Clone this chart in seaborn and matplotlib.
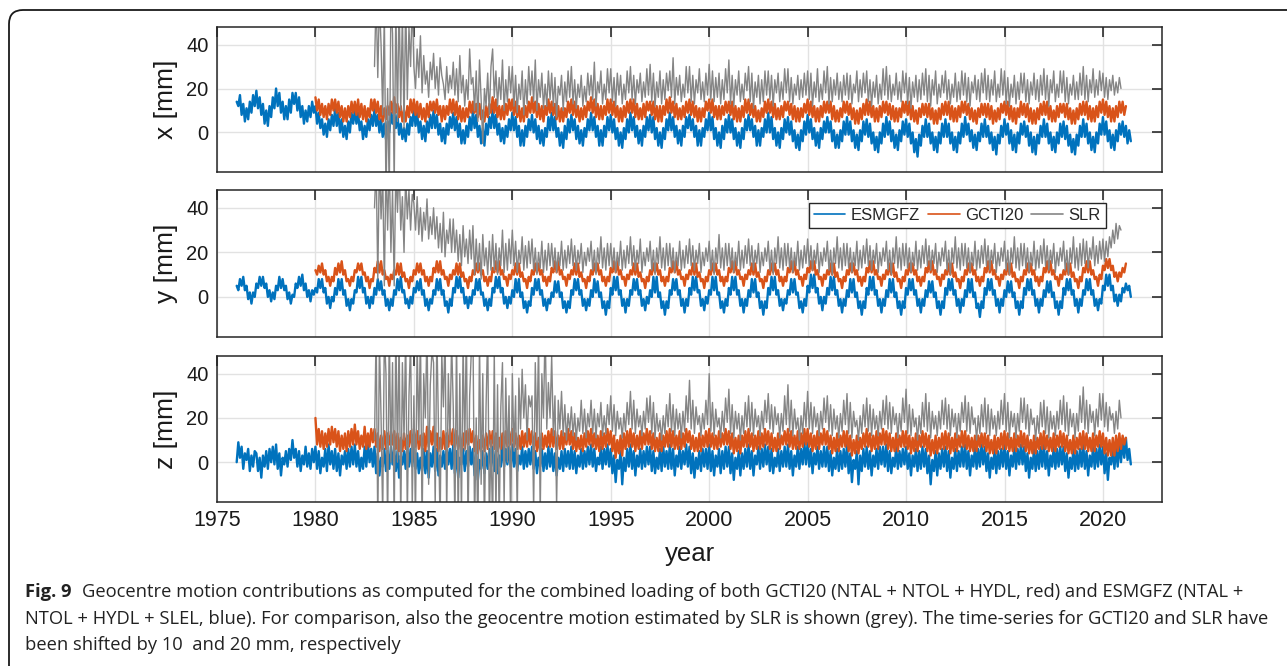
import numpy as np
import pandas as pd
import matplotlib
matplotlib.use("Agg")
import matplotlib.pyplot as plt
import matplotlib.transforms as mtransforms
from matplotlib.patches import FancyBboxPatch
from matplotlib.lines import Line2D
import seaborn as sns

sns.set_theme(style="white")
plt.rcParams["font.family"] = ["Liberation Sans", "DejaVu Sans"]

# ---------------- data (mm), 12 samples per year, one row per year ----------------
SERIES = ["ESMGFZ", "GCTI20", "SLR"]
START_YEAR = {"ESMGFZ": 1976.0, "GCTI20": 1980.0, "SLR": 1983.0}
SAMPLES_PER_YEAR = 12
PANELS = ["x", "y", "z"]
XTICKS = [1975, 1980, 1985, 1990, 1995, 2000, 2005, 2010, 2015, 2020]
YTICKS = [0, 20, 40]

x_esmgfz = [
    14, 12, 17, 8, 13, 5, 11, 6, 14, 9, 17, 12,
    19, 11, 16, 8, 13, 4, 10, 3, 12, 7, 16, 11,
    20, 12, 18, 9, 14, 6, 12, 6, 15, 9, 18, 13,
    18, 10, 16, 7, 12, 4, 10, 5, 12, 7, 14, 9,
    12, 4, 9, 2, 6, -1, 4, -2, 6, 1, 8, 3,
    11, 3, 9, 0, 6, -2, 3, -3, 5, 0, 9, 4,
    10, 4, 9, 1, 5, -3, 3, -2, 6, 1, 8, 3,
    11, 3, 8, 0, 6, -2, 4, -3, 5, 0, 9, 4,
    10, 2, 8, -1, 4, -3, 2, -4, 4, -1, 7, 3,
    11, 3, 9, 0, 5, -3, 3, -4, 5, 0, 8, 2,
    10, 2, 8, -1, 4, -4, 2, -5, 4, -1, 7, 2,
    9, 1, 7, -2, 4, -5, 1, -5, 3, -2, 7, 1,
    10, 2, 8, -2, 3, -5, 2, -6, 4, -1, 7, 2,
    11, 2, 8, -1, 4, -4, 2, -5, 3, -2, 6, 1,
    9, 1, 7, -2, 3, -6, 1, -6, 3, -2, 6, 1,
    8, 0, 6, -3, 3, -5, 1, -6, 2, -2, 7, 1,
    9, 1, 7, -2, 2, -6, 0, -7, 3, -3, 6, 0,
    8, 1, 6, -3, 3, -5, 1, -6, 2, -2, 6, 1,
    9, 1, 7, -2, 3, -6, 1, -6, 3, -2, 7, 1,
    8, 0, 6, -3, 2, -6, 0, -7, 2, -3, 6, 0,
    9, 1, 7, -2, 3, -5, 1, -6, 3, -2, 7, 1,
    8, 0, 7, -3, 2, -6, 0, -7, 2, -3, 6, 1,
    9, 1, 7, -2, 3, -5, 1, -6, 3, -2, 7, 2,
    8, 1, 6, -2, 3, -6, 1, -6, 2, -2, 6, 1,
    9, 1, 7, -3, 2, -6, 0, -7, 3, -3, 6, 0,
    8, 0, 6, -3, 2, -6, 0, -7, 2, -3, 6, 1,
    8, 1, 6, -2, 3, -6, 1, -6, 2, -2, 6, 0,
    9, 0, 7, -3, 2, -6, 0, -7, 2, -3, 6, 0,
    7, -1, 5, -4, 1, -7, -1, -8, 1, -4, 5, -1,
    8, 0, 6, -3, 2, -6, 0, -7, 2, -3, 5, 0,
    7, 0, 5, -4, 1, -7, -1, -7, 1, -4, 5, -1,
    7, -1, 5, -4, 1, -7, -1, -8, 1, -4, 5, -1,
    6, -2, 4, -5, 0, -8, -2, -9, 0, -5, 4, -2,
    7, -1, 5, -4, 1, -7, -1, -8, 1, -4, 5, -1,
    6, -2, 4, -5, 0, -9, -3, -11, -1, -6, 3, -2,
    6, -2, 4, -5, 0, -8, -2, -9, 0, -5, 4, -2,
    6, -2, 4, -5, 0, -8, -2, -9, 0, -5, 4, -2,
    7, -1, 4, -4, 1, -7, -1, -8, 0, -4, 4, -2,
    6, -2, 3, -5, 0, -8, -2, -10, -1, -5, 3, -2,
    6, -1, 4, -5, 1, -8, -1, -9, 0, -5, 4, -1,
    5, -2, 3, -6, 0, -9, -2, -10, -1, -5, 3, -2,
    6, -2, 4, -5, 0, -8, -2, -9, 0, -5, 4, -2,
    5, -3, 3, -6, -1, -9, -3, -10, -1, -6, 3, -2,
    6, -2, 4, -5, 0, -8, -2, -9, 0, -5, 4, -1,
    7, -1, 5, -4, 1, -7, -1, -8, 1, -4, 4, -1,
    5, -2, 3, -5, 1, -4,
]
x_gcti20 = [
    16, 10, 15, 8, 13, 7, 12, 6, 13, 8, 15, 10,
    15, 9, 14, 7, 12, 5, 11, 5, 12, 7, 14, 9,
    14, 8, 15, 7, 13, 6, 12, 5, 11, 7, 15, 10,
    15, 9, 14, 6, 12, 5, 11, 6, 12, 8, 14, 9,
    16, 9, 13, 7, 12, 5, 10, 5, 12, 7, 15, 9,
    15, 8, 14, 7, 13, 6, 11, 5, 13, 7, 14, 10,
    14, 9, 15, 8, 12, 5, 12, 6, 12, 8, 15, 9,
    15, 8, 14, 6, 12, 5, 11, 5, 11, 7, 14, 9,
    14, 9, 13, 7, 13, 6, 10, 5, 12, 7, 13, 9,
    16, 9, 15, 7, 12, 6, 12, 6, 13, 8, 15, 10,
    15, 8, 14, 7, 12, 5, 11, 5, 12, 7, 14, 9,
    16, 9, 14, 7, 13, 6, 12, 5, 12, 8, 15, 9,
    14, 8, 13, 6, 12, 5, 11, 5, 11, 7, 14, 9,
    15, 8, 14, 7, 12, 5, 11, 6, 12, 7, 14, 10,
    16, 9, 15, 7, 13, 6, 12, 6, 12, 8, 15, 9,
    15, 8, 14, 7, 12, 5, 11, 5, 12, 7, 14, 9,
    15, 9, 15, 7, 13, 6, 11, 6, 13, 7, 14, 10,
    14, 8, 14, 6, 12, 5, 12, 5, 12, 8, 15, 9,
    16, 9, 14, 7, 13, 6, 11, 6, 12, 7, 14, 9,
    15, 8, 14, 7, 12, 5, 11, 5, 11, 7, 14, 10,
    15, 9, 15, 7, 12, 6, 12, 6, 12, 8, 14, 9,
    14, 8, 14, 6, 12, 5, 11, 5, 12, 7, 15, 9,
    15, 8, 13, 7, 12, 5, 10, 5, 11, 7, 14, 9,
    15, 9, 14, 7, 13, 6, 11, 6, 12, 7, 14, 10,
    14, 8, 13, 6, 12, 5, 11, 5, 11, 7, 13, 9,
    15, 8, 14, 7, 12, 5, 11, 5, 12, 7, 14, 9,
    14, 9, 14, 6, 12, 5, 10, 5, 11, 7, 14, 9,
    14, 8, 13, 6, 11, 4, 10, 4, 11, 6, 13, 8,
    15, 8, 14, 7, 12, 5, 11, 5, 12, 7, 14, 9,
    14, 8, 13, 6, 12, 5, 11, 5, 11, 7, 14, 9,
    14, 8, 14, 6, 12, 5, 10, 4, 11, 7, 13, 8,
    13, 7, 13, 6, 11, 4, 10, 4, 11, 6, 13, 8,
    14, 8, 14, 6, 12, 5, 11, 5, 12, 7, 14, 9,
    14, 8, 13, 6, 11, 5, 10, 4, 11, 7, 13, 8,
    13, 7, 13, 6, 12, 4, 10, 5, 11, 6, 13, 9,
    14, 8, 14, 6, 12, 5, 11, 4, 11, 7, 14, 8,
    13, 7, 13, 5, 11, 4, 10, 4, 11, 6, 13, 8,
    14, 8, 14, 6, 12, 5, 10, 5, 12, 7, 13, 9,
    13, 7, 13, 6, 11, 4, 10, 4, 11, 6, 13, 8,
    14, 8, 14, 6, 12, 5, 11, 5, 12, 7, 14, 9,
    15, 8, 14, 7, 12, 5, 11, 5, 12, 7, 14, 9,
    14, 8, 12,
]
x_slr = [
    30, 62, 25, 60, 40, 8, 55, -30, 20, -28, 60, 45,
    -25, 58, 5, 62, 10, 55, 2, 60, 15, 48, 30, 60,
    30, 20, 38, 25, 44, 18, 35, 22, 28, 16, 32, 24,
    36, 20, 30, 17, 34, 26, 22, 15, 30, 18, 26, 20,
    32, 17, 29, 14, 35, 18, 26, 12, 24, 15, 38, 22,
    25, 10, 28, 5, 33, 15, -5, 20, 12, 27, 8, 30,
    38, 16, 28, 12, 25, 15, 33, 10, 24, 14, 30, 18,
    30, 12, 26, 9, 22, 15, 28, 8, 24, 13, 30, 17,
    28, 14, 33, 10, 24, 16, 27, 11, 22, 12, 28, 15,
    27, 12, 25, 7, 21, 17, 26, 10, 23, 14, 28, 16,
    30, 13, 24, 11, 22, 16, 26, 12, 21, 14, 27, 17,
    26, 15, 32, 12, 23, 18, 28, 13, 22, 15, 29, 18,
    29, 14, 25, 12, 27, 17, 26, 13, 22, 15, 28, 18,
    30, 15, 26, 13, 24, 18, 27, 14, 23, 16, 29, 17,
    31, 14, 27, 12, 23, 16, 28, 13, 24, 15, 27, 19,
    28, 16, 34, 13, 25, 17, 26, 14, 22, 16, 30, 18,
    30, 14, 26, 13, 24, 18, 29, 15, 23, 14, 27, 17,
    31, 15, 28, 14, 25, 16, 27, 13, 24, 15, 29, 18,
    33, 13, 26, 12, 24, 17, 28, 14, 22, 15, 27, 19,
    30, 14, 27, 11, 23, 16, 26, 13, 24, 14, 28, 17,
    28, 15, 26, 12, 24, 18, 27, 14, 23, 15, 29, 18,
    29, 14, 25, 13, 22, 17, 26, 15, 24, 16, 27, 17,
    28, 15, 27, 12, 23, 16, 29, 14, 22, 15, 28, 18,
    30, 13, 25, 14, 24, 17, 27, 15, 23, 14, 26, 17,
    27, 15, 26, 13, 22, 18, 28, 14, 24, 16, 27, 18,
    28, 14, 24, 12, 23, 16, 26, 13, 22, 15, 29, 17,
    30, 15, 26, 14, 22, 17, 27, 15, 23, 14, 28, 18,
    27, 13, 25, 11, 23, 16, 26, 14, 24, 15, 27, 17,
    29, 14, 26, 12, 24, 17, 28, 13, 22, 16, 26, 18,
    28, 15, 24, 13, 22, 16, 27, 14, 23, 15, 28, 17,
    27, 14, 25, 12, 23, 18, 26, 15, 24, 14, 27, 18,
    29, 15, 26, 14, 24, 17, 28, 14, 22, 16, 29, 17,
    28, 13, 25, 12, 22, 16, 26, 13, 23, 15, 27, 18,
    27, 14, 24, 13, 23, 17, 27, 15, 24, 14, 26, 17,
    29, 15, 26, 12, 24, 18, 28, 14, 22, 16, 28, 18,
    28, 14, 25, 13, 22, 17, 26, 15, 23, 15, 27, 17,
    30, 15, 26, 14, 24, 18, 29, 16, 24, 17, 28, 19,
    27, 16, 25, 15, 24, 19, 26, 17, 23, 18, 25, 20,
]

y_esmgfz = [
    5, 3, 8, 5, 9, 3, 5, -1, 2, -3, 2, 0,
    6, 4, 9, 5, 9, 4, 6, 0, 3, -2, 2, -1,
    5, 3, 9, 4, 8, 3, 5, -1, 2, -3, 1, 0,
    6, 4, 9, 5, 10, 3, 6, 0, 3, -2, 3, 1,
    4, 2, 8, 4, 8, 2, 4, -3, 0, -5, 0, -2,
    4, 1, 8, 3, 8, 1, 3, -4, -1, -6, -1, -3,
    3, 2, 9, 4, 9, 2, 4, -3, 0, -5, 0, -3,
    4, 1, 8, 3, 7, 1, 3, -4, -1, -6, -1, -4,
    3, 1, 8, 3, 9, 2, 3, -3, -1, -5, 0, -3,
    4, 2, 7, 3, 8, 1, 3, -4, -1, -6, -1, -3,
    3, 1, 8, 3, 8, 1, 3, -4, -2, -7, -1, -4,
    4, 2, 9, 4, 9, 2, 4, -3, 0, -5, 0, -3,
    3, 1, 8, 3, 8, 1, 2, -4, -1, -6, -1, -4,
    4, 2, 9, 4, 9, 2, 4, -3, 0, -5, 0, -3,
    3, 0, 8, 2, 8, 0, 2, -5, -2, -7, -2, -4,
    4, 1, 8, 3, 8, 1, 3, -4, -1, -6, -1, -3,
    2, 0, 7, 2, 7, 0, 2, -5, -2, -7, -2, -5,
    3, 1, 8, 3, 8, 1, 3, -4, -1, -6, -1, -4,
    3, 0, 8, 2, 7, 0, 2, -5, -2, -8, -2, -5,
    4, 1, 9, 3, 9, 1, 3, -4, -1, -7, -1, -4,
    3, 1, 8, 3, 8, 1, 3, -4, -1, -6, 0, -3,
    3, 0, 9, 2, 9, 0, 2, -5, -2, -8, -2, -5,
    3, 1, 8, 3, 8, 1, 3, -4, -1, -7, -1, -4,
    4, 1, 9, 3, 9, 2, 3, -4, -1, -6, 0, -3,
    3, 1, 9, 3, 9, 1, 2, -5, -2, -7, -1, -4,
    4, 1, 9, 3, 9, 1, 3, -4, -1, -7, -1, -4,
    3, 0, 8, 2, 8, 0, 2, -5, -2, -8, -2, -5,
    4, 1, 9, 3, 9, 1, 3, -4, -1, -6, -1, -3,
    3, 1, 8, 2, 8, 1, 2, -5, -2, -7, -1, -4,
    5, 2, 10, 4, 10, 2, 4, -3, 0, -6, 0, -3,
    4, 1, 9, 3, 9, 1, 3, -4, -1, -7, -1, -4,
    3, 0, 8, 2, 8, 0, 2, -5, -2, -8, -2, -5,
    4, 1, 9, 3, 9, 1, 3, -4, -1, -7, -1, -4,
    3, 0, 8, 2, 8, 0, 2, -5, -2, -8, -2, -5,
    4, 1, 8, 3, 8, 1, 3, -4, -1, -7, -1, -4,
    3, 0, 7, 2, 7, 0, 2, -5, -2, -8, -2, -5,
    4, 1, 8, 3, 8, 1, 3, -4, -1, -7, -1, -4,
    3, 0, 8, 2, 8, 0, 2, -5, -3, -9, -2, -5,
    4, 1, 8, 3, 8, 1, 3, -4, -1, -7, -1, -4,
    3, 0, 7, 2, 7, 0, 2, -5, -2, -8, -2, -5,
    4, 1, 8, 3, 8, 1, 3, -4, -1, -7, -1, -4,
    3, 0, 7, 2, 7, 0, 2, -5, -2, -8, -2, -5,
    4, 1, 8, 3, 8, 1, 3, -4, -1, -7, -1, -4,
    3, 1, 8, 3, 8, 1, 3, -4, -1, -6, -1, -3,
    5, 3, 10, 5, 10, 3, 5, -2, 1, -4, 1, -2,
    4, 2, 6, 3, 5, 0,
]
y_gcti20 = [
    12, 10, 14, 11, 15, 10, 12, 7, 9, 5, 9, 7,
    13, 10, 15, 11, 16, 10, 12, 7, 8, 5, 9, 7,
    12, 11, 15, 12, 15, 10, 11, 7, 9, 4, 8, 7,
    13, 11, 16, 11, 16, 10, 12, 8, 9, 5, 10, 8,
    12, 10, 15, 10, 15, 9, 11, 7, 8, 4, 9, 7,
    12, 10, 15, 11, 15, 10, 12, 7, 9, 5, 9, 7,
    13, 11, 16, 11, 16, 10, 12, 8, 9, 5, 10, 8,
    12, 10, 15, 10, 15, 9, 11, 7, 8, 4, 9, 7,
    12, 10, 15, 11, 15, 10, 12, 7, 9, 5, 9, 7,
    13, 11, 16, 11, 16, 10, 12, 8, 9, 5, 10, 8,
    12, 10, 15, 10, 15, 9, 11, 7, 8, 4, 9, 7,
    12, 10, 15, 11, 15, 10, 12, 7, 9, 5, 9, 7,
    13, 11, 16, 11, 16, 10, 12, 8, 9, 5, 10, 8,
    12, 10, 15, 10, 15, 9, 11, 7, 8, 4, 9, 7,
    12, 10, 15, 11, 15, 10, 12, 7, 9, 5, 9, 7,
    13, 11, 16, 11, 16, 10, 12, 8, 9, 5, 10, 8,
    12, 10, 15, 10, 15, 9, 11, 7, 8, 4, 9, 7,
    12, 10, 15, 11, 15, 10, 12, 7, 9, 5, 9, 7,
    13, 11, 16, 11, 16, 10, 12, 8, 9, 5, 10, 8,
    12, 10, 15, 10, 15, 9, 11, 7, 8, 4, 9, 7,
    12, 10, 15, 11, 15, 10, 12, 7, 9, 5, 9, 7,
    13, 11, 16, 11, 16, 10, 12, 8, 9, 5, 10, 8,
    12, 10, 15, 10, 15, 9, 11, 7, 8, 4, 9, 7,
    12, 10, 15, 11, 15, 10, 12, 7, 9, 5, 9, 7,
    13, 11, 16, 11, 16, 10, 12, 8, 9, 5, 10, 8,
    13, 11, 16, 12, 16, 10, 12, 8, 9, 5, 10, 8,
    12, 10, 15, 10, 15, 9, 11, 7, 8, 4, 9, 7,
    12, 10, 15, 11, 15, 10, 12, 7, 9, 5, 9, 7,
    13, 11, 16, 11, 16, 10, 12, 8, 9, 5, 10, 8,
    12, 10, 15, 10, 15, 9, 11, 7, 8, 4, 9, 7,
    12, 10, 15, 11, 15, 10, 12, 7, 9, 5, 9, 7,
    13, 11, 16, 11, 16, 10, 12, 8, 9, 5, 10, 8,
    12, 10, 15, 10, 15, 9, 11, 7, 8, 4, 9, 7,
    12, 10, 15, 11, 15, 10, 12, 7, 9, 5, 9, 7,
    13, 11, 16, 11, 16, 10, 12, 8, 9, 5, 10, 8,
    12, 10, 15, 10, 15, 9, 11, 7, 8, 4, 9, 7,
    12, 10, 15, 11, 15, 10, 12, 7, 9, 5, 9, 7,
    13, 11, 16, 11, 16, 10, 12, 8, 9, 5, 10, 8,
    12, 10, 15, 10, 15, 9, 11, 7, 8, 4, 9, 7,
    13, 11, 16, 11, 16, 10, 12, 8, 9, 5, 10, 8,
    14, 12, 17, 13, 17, 12, 14, 9, 11, 7, 11, 9,
    13, 11, 15,
]
y_slr = [
    40, 60, 8, 62, 35, 55, 5, 60, 30, 62, 20, 48,
    5, 58, 38, 60, 30, 45, 20, 55, 35, 48, 30, 46,
    42, 30, 45, 28, 40, 25, 38, 30, 44, 26, 36, 28,
    40, 26, 36, 22, 33, 20, 38, 18, 30, 24, 35, 20,
    35, 20, 30, 16, 28, 14, 32, 18, 26, 15, 30, 17,
    32, 10, 26, 12, 24, 8, 28, 14, 22, 10, 25, 12,
    28, 12, 24, 10, 22, 14, 30, 11, 24, 12, 26, 15,
    30, 14, 25, 11, 21, 15, 27, 12, 23, 13, 25, 15,
    26, 12, 22, 10, 20, 13, 25, 11, 21, 12, 24, 14,
    24, 13, 22, 11, 20, 14, 25, 12, 21, 13, 23, 15,
    26, 14, 23, 12, 21, 15, 24, 11, 20, 14, 22, 16,
    25, 12, 21, 10, 22, 15, 27, 13, 22, 12, 24, 14,
    24, 13, 22, 11, 20, 14, 25, 12, 21, 13, 23, 15,
    27, 14, 23, 12, 21, 15, 26, 11, 20, 14, 22, 16,
    25, 12, 21, 10, 22, 15, 27, 13, 22, 12, 24, 14,
    24, 13, 22, 11, 20, 14, 25, 12, 21, 13, 23, 15,
    26, 14, 23, 12, 21, 15, 24, 11, 20, 14, 22, 16,
    25, 12, 21, 10, 22, 15, 28, 13, 22, 12, 24, 14,
    24, 13, 22, 11, 20, 14, 25, 12, 21, 13, 23, 15,
    26, 14, 23, 12, 21, 15, 24, 11, 20, 14, 22, 16,
    25, 12, 21, 10, 22, 15, 27, 13, 22, 12, 24, 14,
    24, 13, 22, 11, 20, 14, 25, 12, 21, 13, 23, 15,
    26, 14, 23, 12, 21, 15, 24, 11, 20, 14, 22, 16,
    25, 12, 21, 10, 22, 15, 27, 13, 22, 12, 24, 14,
    24, 13, 22, 11, 20, 14, 25, 12, 21, 13, 23, 15,
    26, 14, 23, 12, 21, 15, 24, 11, 20, 14, 22, 16,
    25, 12, 21, 10, 22, 15, 27, 13, 22, 12, 24, 14,
    24, 13, 22, 11, 20, 14, 25, 12, 21, 13, 23, 15,
    26, 14, 23, 12, 21, 15, 24, 11, 20, 14, 22, 16,
    25, 12, 21, 10, 22, 15, 27, 13, 22, 12, 24, 14,
    24, 13, 22, 11, 20, 14, 25, 12, 21, 13, 23, 15,
    26, 14, 23, 12, 21, 15, 24, 11, 20, 14, 22, 16,
    25, 12, 21, 10, 22, 15, 27, 13, 22, 12, 24, 14,
    24, 13, 22, 11, 20, 14, 25, 12, 21, 13, 23, 15,
    26, 14, 23, 12, 21, 15, 24, 11, 20, 14, 22, 16,
    25, 12, 21, 10, 22, 15, 27, 13, 22, 12, 24, 14,
    26, 15, 25, 13, 22, 17, 27, 14, 23, 15, 25, 17,
    26, 16, 25, 18, 27, 22, 30, 24, 33, 26, 32, 30,
]

z_esmgfz = [
    0, 9, 2, 7, -3, 4, 1, 6, -4, 3, -2, 5,
    4, -4, 2, -7, 3, -2, 5, -3, 6, 0, 7, -1,
    8, -3, 4, -6, 2, -1, 5, -2, 6, 1, 10, 2,
    6, -2, 5, -4, 3, -1, 7, -2, 4, -3, 6, 0,
    7, -3, 5, -5, 2, -2, 6, -4, 8, -1, 5, -3,
    6, -4, 4, -6, 3, -1, 5, -3, 6, -2, 7, -1,
    8, -2, 5, -4, 2, -3, 7, -2, 9, 0, 6, -2,
    7, -5, 4, -6, 2, -2, 6, -4, 5, -3, 7, -1,
    6, -4, 5, -7, 3, -1, 5, -3, 7, -2, 6, -2,
    8, -3, 4, -5, 2, -4, 6, -5, 5, -7, 4, -2,
    7, -4, 6, -6, 3, -2, 5, -3, 7, -1, 6, -3,
    8, -5, 5, -7, 2, -1, 6, -4, 5, -2, 7, -1,
    6, -6, 4, -8, 1, -3, 5, -5, 4, -3, 6, -2,
    7, -4, 5, -5, 3, -2, 8, -2, 6, -1, 7, -2,
    8, -2, 6, -4, 3, -1, 7, -3, 5, -2, 6, -1,
    7, -3, 5, -5, 2, -2, 6, -4, 4, -3, 7, -2,
    6, -4, 4, -6, 2, -3, 5, -4, 6, -2, 5, -3,
    7, -3, 5, -5, 3, -2, 6, -3, 5, -2, 7, -1,
    8, -2, 6, -4, 2, -1, 7, -3, 6, -1, 8, -2,
    6, -5, 3, -9, 1, -3, 5, -10, 2, -4, 6, -2,
    8, -3, 5, -6, 3, -2, 6, -3, 5, -2, 7, -1,
    7, -4, 5, -5, 2, -3, 6, -4, 7, -2, 5, -3,
    8, -3, 6, -6, 3, -2, 7, -3, 5, -1, 8, -2,
    7, -5, 4, -7, 2, -3, 5, -4, 6, -2, 6, -3,
    8, -4, 5, -6, 3, -2, 6, -5, 5, -3, 7, -2,
    7, -5, 4, -8, 2, -3, 5, -6, 4, -3, 6, -2,
    8, -3, 5, -6, 3, -1, 7, -3, 6, -2, 8, -1,
    7, -4, 6, -5, 2, -2, 6, -4, 5, -2, 7, -2,
    8, -3, 5, -6, 3, -2, 7, -3, 6, -1, 9, -1,
    9, -2, 6, -5, 4, -1, 7, -3, 5, -2, 7, -2,
    7, -4, 5, -6, 2, -3, 6, -4, 5, -3, 6, -2,
    8, -5, 4, -9, 1, -3, 5, -10, 3, -4, 6, -2,
    7, -3, 5, -6, 3, -2, 6, -3, 7, -1, 7, -2,
    8, -4, 5, -5, 2, -2, 7, -3, 5, -2, 6, -1,
    7, -3, 4, -6, 3, -2, 6, -4, 5, -3, 7, -2,
    6, -5, 3, -10, 1, -4, 5, -6, 4, -3, 6, -2,
    7, -4, 5, -7, 2, -3, 6, -4, 5, -2, 7, -2,
    8, -3, 5, -6, 3, -2, 7, -3, 6, -2, 8, -1,
    7, -4, 4, -7, 2, -3, 6, -5, 5, -3, 6, -2,
    8, -3, 5, -6, 3, -2, 7, -3, 6, -1, 8, -1,
    7, -4, 4, -7, 2, -3, 6, -4, 5, -3, 7, -2,
    8, -3, 5, -6, 3, -2, 7, -3, 6, -2, 7, -1,
    7, -4, 4, -7, 2, -3, 6, -4, 5, -3, 6, -2,
    8, -3, 5, -6, 3, -2, 7, -3, 6, -2, 8, -1,
    7, -5, 4, -8, 2, -1, 6, -3, 7, -2, 9, 0,
    10, 2, 11, 1, 6, -1,
]
z_gcti20 = [
    20, 8, 15, 7, 14, 6, 13, 7, 15, 8, 16, 9,
    15, 7, 14, 5, 12, 6, 13, 5, 14, 7, 15, 8,
    17, 8, 14, 6, 12, 7, 16, 6, 13, 7, 15, 9,
    15, 7, 13, 5, 12, 6, 14, 6, 13, 8, 14, 8,
    14, 6, 13, 5, 11, 5, 13, 6, 12, 7, 14, 7,
    15, 7, 14, 6, 12, 6, 13, 5, 16, 7, 14, 8,
    16, 6, 13, 5, 11, 6, 14, 6, 13, 7, 15, 8,
    15, 7, 14, 6, 12, 5, 13, 6, 14, 8, 15, 9,
    14, 5, 12, 4, 10, 5, 12, 5, 13, 6, 14, 7,
    14, 6, 13, 5, 11, 6, 13, 6, 14, 7, 14, 8,
    15, 7, 13, 6, 12, 6, 14, 7, 13, 7, 15, 8,
    14, 6, 13, 5, 11, 5, 13, 6, 12, 7, 14, 7,
    15, 7, 14, 6, 12, 6, 14, 6, 13, 8, 15, 8,
    14, 6, 13, 5, 11, 6, 12, 5, 13, 7, 14, 8,
    15, 7, 13, 6, 12, 5, 14, 6, 13, 7, 15, 8,
    14, 5, 12, 2, 10, 4, 12, 3, 13, 6, 14, 7,
    15, 7, 13, 5, 12, 6, 14, 6, 13, 8, 15, 8,
    14, 6, 13, 5, 11, 5, 13, 5, 12, 7, 14, 7,
    15, 7, 14, 6, 12, 6, 14, 6, 13, 7, 15, 9,
    14, 6, 12, 5, 11, 5, 13, 5, 12, 7, 14, 7,
    15, 7, 13, 6, 12, 6, 14, 7, 13, 8, 15, 8,
    14, 6, 13, 4, 11, 5, 12, 4, 12, 7, 14, 7,
    15, 7, 13, 5, 12, 6, 14, 6, 13, 7, 15, 8,
    14, 6, 13, 5, 11, 5, 13, 6, 12, 8, 14, 8,
    15, 7, 14, 6, 12, 6, 14, 6, 13, 7, 15, 8,
    15, 7, 13, 5, 12, 6, 14, 6, 13, 8, 15, 8,
    14, 6, 12, 4, 11, 5, 13, 5, 12, 7, 14, 7,
    14, 5, 12, 3, 10, 4, 12, 4, 11, 6, 13, 7,
    15, 7, 13, 5, 12, 6, 14, 6, 13, 8, 15, 8,
    14, 6, 13, 5, 11, 5, 13, 5, 12, 7, 14, 7,
    14, 6, 12, 4, 11, 5, 13, 5, 12, 7, 14, 7,
    13, 5, 12, 3, 10, 4, 12, 4, 11, 6, 13, 6,
    14, 6, 13, 4, 11, 5, 13, 5, 12, 7, 14, 7,
    14, 6, 12, 5, 11, 5, 12, 5, 12, 7, 13, 7,
    13, 5, 12, 4, 10, 4, 12, 4, 11, 6, 13, 6,
    14, 6, 13, 5, 11, 5, 13, 5, 12, 7, 14, 7,
    13, 5, 12, 4, 10, 4, 12, 4, 11, 6, 13, 6,
    14, 6, 12, 5, 11, 5, 13, 5, 12, 7, 14, 7,
    13, 5, 12, 4, 10, 4, 12, 4, 11, 6, 13, 6,
    14, 6, 13, 5, 11, 5, 13, 5, 12, 7, 14, 7,
    13, 4, 11, 3, 10, 3, 11, 3, 12, 5, 13, 6,
    12, 8, 11,
]
z_slr = [
    10, 60, -30, 55, 20, -25, 58, 40, -30, 62, 0, 45,
    -30, 62, 0, 58, -28, 45, 10, 60, -25, 30, 55, -20,
    30, -25, 55, 10, 60, -30, 40, 20, 62, -10, 35, 50,
    45, -20, 60, 15, -30, 50, 25, 60, -25, 40, 10, 55,
    25, -28, 58, -30, 40, -25, 55, 5, 62, -30, 30, 50,
    60, -30, 20, -35, 55, -10, 40, -30, 25, 60, -28, 10,
    -30, 50, -25, 35, -30, 25, 45, -20, 38, 0, 30, -30,
    40, 5, 30, -25, 38, 15, 42, 20, 35, 10, 30, 25,
    30, -22, 45, 10, 55, -25, 40, 20, 62, 15, 36, 20,
    48, 12, 30, -20, 28, 15, 32, 12, 26, 10, 22, 14,
    25, 12, 22, 10, 20, 14, 28, 13, 24, 11, 22, 16,
    28, 13, 24, 11, 22, 16, 27, 12, 21, 13, 26, 17,
    30, 14, 26, 12, 23, 15, 20, 11, 22, 14, 27, 17,
    32, 15, 28, 13, 24, 16, 21, 12, 23, 15, 29, 18,
    30, 13, 27, 11, 22, 14, 19, 10, 21, 13, 26, 16,
    31, 14, 26, 12, 24, 15, 22, 11, 23, 14, 30, 18,
    37, 15, 28, 13, 25, 17, 21, 12, 22, 15, 28, 17,
    40, 14, 27, 12, 24, 16, 20, 11, 23, 14, 29, 18,
    33, 13, 26, 11, 23, 15, 22, 10, 21, 13, 27, 16,
    30, 14, 27, 12, 24, 16, 21, 12, 23, 15, 28, 18,
    31, 15, 26, 13, 25, 17, 22, 11, 22, 14, 30, 17,
    35, 14, 28, 12, 24, 15, 20, 10, 21, 13, 27, 16,
    32, 15, 27, 13, 25, 16, 22, 12, 23, 15, 29, 18,
    30, 14, 26, 12, 24, 15, 21, 11, 22, 14, 28, 17,
    31, 13, 27, 11, 23, 16, 19, 10, 21, 13, 26, 16,
    29, 14, 26, 12, 24, 15, 21, 12, 23, 15, 28, 17,
    30, 15, 27, 13, 25, 17, 22, 11, 22, 14, 29, 18,
    33, 13, 26, 12, 24, 16, 20, 10, 21, 13, 27, 16,
    31, 14, 27, 11, 23, 15, 21, 12, 23, 15, 28, 17,
    29, 15, 26, 12, 24, 16, 22, 11, 22, 14, 27, 18,
    30, 14, 27, 13, 25, 17, 20, 10, 21, 13, 26, 16,
    29, 13, 26, 12, 24, 15, 21, 12, 23, 15, 28, 17,
    31, 14, 27, 11, 23, 16, 22, 11, 22, 14, 29, 18,
    29, 15, 26, 12, 24, 17, 20, 10, 21, 13, 27, 16,
    28, 13, 25, 11, 23, 15, 21, 12, 23, 15, 28, 17,
    30, 14, 27, 12, 24, 16, 22, 11, 22, 14, 30, 18,
    34, 15, 28, 13, 26, 18, 23, 12, 24, 16, 31, 19,
    31, 16, 27, 14, 25, 19, 22, 13, 23, 15, 28, 20,
]

DATA = {
    "x": {"ESMGFZ": x_esmgfz, "GCTI20": x_gcti20, "SLR": x_slr},
    "y": {"ESMGFZ": y_esmgfz, "GCTI20": y_gcti20, "SLR": y_slr},
    "z": {"ESMGFZ": z_esmgfz, "GCTI20": z_gcti20, "SLR": z_slr},
}

CAPTION_BOLD = "Fig. 9"
CAPTION_LINES = [
    "Geocentre motion contributions as computed for the combined loading of both GCTI20 (NTAL + NTOL + HYDL, red) and ESMGFZ (NTAL +",
    "NTOL + HYDL + SLEL, blue). For comparison, also the geocentre motion estimated by SLR is shown (grey). The time-series for GCTI20 and SLR have",
    "been shifted by 10  and 20 mm, respectively",
]

# ---------------- style ----------------
COLORS = {"ESMGFZ": "#0072BD", "GCTI20": "#D95319", "SLR": "#858585"}
LWS = {"ESMGFZ": 1.7, "GCTI20": 1.7, "SLR": 1.0}
W, H = 1287, 666
fig = plt.figure(figsize=(W / 100, H / 100), dpi=100)
fig.patch.set_facecolor("white")

border = FancyBboxPatch((9, -20), W + 40, H + 20 - 10,
                        boxstyle="round,pad=0,rounding_size=14",
                        transform=mtransforms.IdentityTransform(),
                        fill=False, edgecolor="#1a1a1a", linewidth=1.3)
fig.patches.append(border)

left, right = 217, 1162
panel_px = [(27, 172), (190, 337), (356, 502)]
axes = []
for (top, bot) in panel_px:
    ax = fig.add_axes([left / W, 1 - bot / H, (right - left) / W, (bot - top) / H])
    axes.append(ax)

for ax, comp in zip(axes, PANELS):
    for name in SERIES:
        vals = np.asarray(DATA[comp][name], dtype=float)
        t = START_YEAR[name] + np.arange(len(vals)) / SAMPLES_PER_YEAR
        df = pd.DataFrame({"year": t, "mm": vals})
        sns.lineplot(data=df, x="year", y="mm", ax=ax, color=COLORS[name],
                     linewidth=LWS[name], estimator=None, sort=False, legend=False)
    ax.set_xlim(1975, 2023)
    ax.set_ylim(-18, 48)
    ax.set_xticks(XTICKS)
    ax.set_yticks(YTICKS)
    ax.grid(True, color="#e2e2e2", linewidth=1.0)
    ax.set_axisbelow(True)
    ax.tick_params(direction="in", top=True, right=True, length=7, width=1.1,
                   colors="#1a1a1a", labelsize=14.5, pad=6)
    for sp in ax.spines.values():
        sp.set_color("#262626")
        sp.set_linewidth(1.1)
    ax.set_ylabel(f"{comp} [mm]", fontsize=19, labelpad=6, color="#1a1a1a")
    ax.set_xlabel("")
    if ax is not axes[-1]:
        ax.set_xticklabels([])

axes[-1].set_xlabel("year", fontsize=18.5, color="#1a1a1a", labelpad=8)
for lab in axes[-1].get_xticklabels():
    lab.set_fontsize(15.5)

handles = [Line2D([], [], color=COLORS[n], linewidth=1.2) for n in SERIES]
leg = axes[1].legend(handles, SERIES, ncol=3, loc="upper right",
                     bbox_to_anchor=(0.9407, 0.912), frameon=True, fancybox=False,
                     edgecolor="#262626", framealpha=1, fontsize=12,
                     handlelength=1.9, handletextpad=0.35, columnspacing=0.45,
                     borderpad=0.3, borderaxespad=0)
leg.get_frame().set_linewidth(1.0)

# ---------------- caption ----------------
cap_font = ["Open Sans", "Noto Sans", "DejaVu Sans"]
renderer = fig.canvas.get_renderer()
x0 = 25
target_right = 1272
line_y = [592, 619, 645]
size = 11.5
bold = fig.text(x0 / W, 1 - line_y[0] / H, CAPTION_BOLD, fontsize=size, weight="bold",
                family=cap_font, va="center", ha="left", color="#222222")
gap = 9
texts = []
t1 = fig.text((x0 + bold.get_window_extent(renderer).width + gap) / W, 1 - line_y[0] / H,
              CAPTION_LINES[0], fontsize=size, family=cap_font, va="center", ha="left",
              color="#222222")
texts.append(t1)
for ln, yy in zip(CAPTION_LINES[1:], line_y[1:]):
    texts.append(fig.text(x0 / W, 1 - yy / H, ln, fontsize=size, family=cap_font,
                          va="center", ha="left", color="#222222"))
bw = bold.get_window_extent(renderer).width
w1 = bw + gap + texts[0].get_window_extent(renderer).width
w2 = texts[1].get_window_extent(renderer).width
scale = (target_right - x0) / max(w1, w2)
new_size = size * scale
for tx in [bold] + texts:
    tx.set_fontsize(new_size)
bw = bold.get_window_extent(renderer).width
texts[0].set_x((x0 + bw + gap * scale) / W)

fig.savefig("out.png", dpi=100, facecolor="white")
